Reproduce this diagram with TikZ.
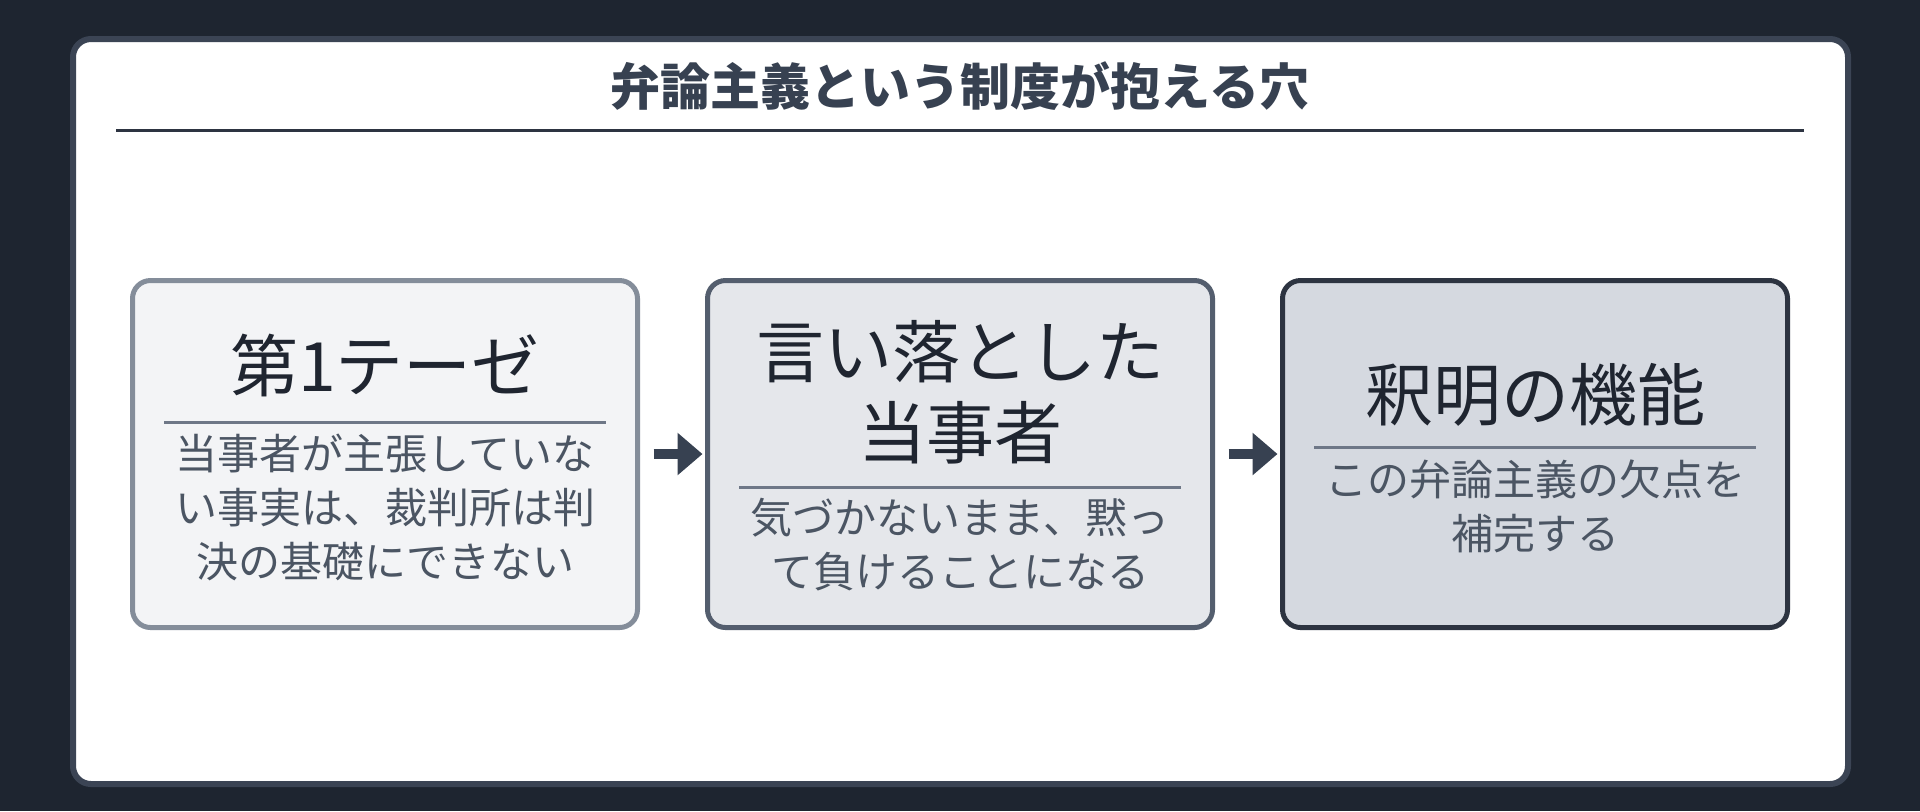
\documentclass[tikz,border=0pt]{standalone}
\usepackage{fontspec}
\setmainfont{Noto Sans CJK JP}
\usetikzlibrary{arrows.meta}
\definecolor{bgc}{HTML}{1E2530}
\definecolor{panelborder}{HTML}{3B4454}
\definecolor{titlec}{HTML}{374151}
\definecolor{rulec}{HTML}{2D3441}
\definecolor{fillA}{HTML}{F3F4F6}
\definecolor{drawA}{HTML}{848D9A}
\definecolor{fillB}{HTML}{E5E7EB}
\definecolor{drawB}{HTML}{545E6E}
\definecolor{fillC}{HTML}{D5D9E0}
\definecolor{drawC}{HTML}{2D3441}
\definecolor{sepc}{HTML}{6E7787}
\definecolor{headc}{HTML}{1F2530}
\definecolor{bodyc}{HTML}{4B5563}
\definecolor{arrowc}{HTML}{374151}
\tikzset{
  stagebox/.style={draw, line width=2.5pt, rounded corners=9pt,
    minimum width=252.5pt, minimum height=173.5pt, inner sep=0pt},
  headtext/.style={text=headc, align=center, inner sep=0pt,
    font=\fontsize{34}{40.5}\selectfont},
  bodytext/.style={text=bodyc, align=center, inner sep=0pt,
    font=\fontsize{21}{27}\selectfont},
  seprule/.style={draw=sepc, line width=1.5pt},
  flowarrow/.style={draw=arrowc, line width=5pt,
    -{Triangle[length=12.5pt, width=20.5pt]}, shorten >=1.25pt}
}
\begin{document}
\begin{tikzpicture}[x=0.5pt,y=-0.5pt]
\useasboundingbox (0,0) rectangle (1920,811);
\fill[bgc] (0,0) rectangle (1920,811);
% panel
\node[draw=panelborder, fill=white, line width=3pt, rounded corners=9pt,
  minimum width=887.5pt, minimum height=372.5pt, inner sep=0pt]
  (panel) at (960.5,411.5) {};
% title
\node[text=titlec, font=\fontsize{25}{30}\selectfont\bfseries, inner sep=0pt]
  (title) at (960,86) {弁論主義という制度が抱える穴};
\coordinate (ruleL) at (116,130.5);
\coordinate (ruleR) at (1804,130.5);
\draw[draw=rulec, line width=1.5pt] (ruleL) -- (ruleR);
% boxes
\node[stagebox, fill=fillA, draw=drawA] (b1) at (385,454) {};
\node[stagebox, fill=fillB, draw=drawB] (b2) at (960,454) {};
\node[stagebox, fill=fillC, draw=drawC] (b3) at (1535,454) {};
% box 1 content
\node[headtext] (h1) at (385,365) {第1テーゼ};
\coordinate (s1L) at (164,422);
\coordinate (s1R) at (606,422);
\draw[seprule] (s1L) -- (s1R);
\node[bodytext] (t1) at (385,507) {当事者が主張していな\\い事実は、裁判所は判\\決の基礎にできない};
% box 2 content
\node[headtext] (h2) at (960,392.5) {言い落とした\\当事者};
\coordinate (s2L) at (739,487);
\coordinate (s2R) at (1181,487);
\draw[seprule] (s2L) -- (s2R);
\node[bodytext] (t2) at (960,545) {気づかないまま、黙っ\\て負けることになる};
% box 3 content
\node[headtext] (h3) at (1535,395) {釈明の機能};
\coordinate (s3L) at (1314,447);
\coordinate (s3R) at (1756,447);
\draw[seprule] (s3L) -- (s3R);
\node[bodytext] (t3) at (1535,506.5) {この弁論主義の欠点を\\補完する};
% arrows
\draw[flowarrow] ([xshift=6.75pt]b1.east) -- (b2.west);
\draw[flowarrow] ([xshift=6.75pt]b2.east) -- (b3.west);
\end{tikzpicture}
\end{document}
